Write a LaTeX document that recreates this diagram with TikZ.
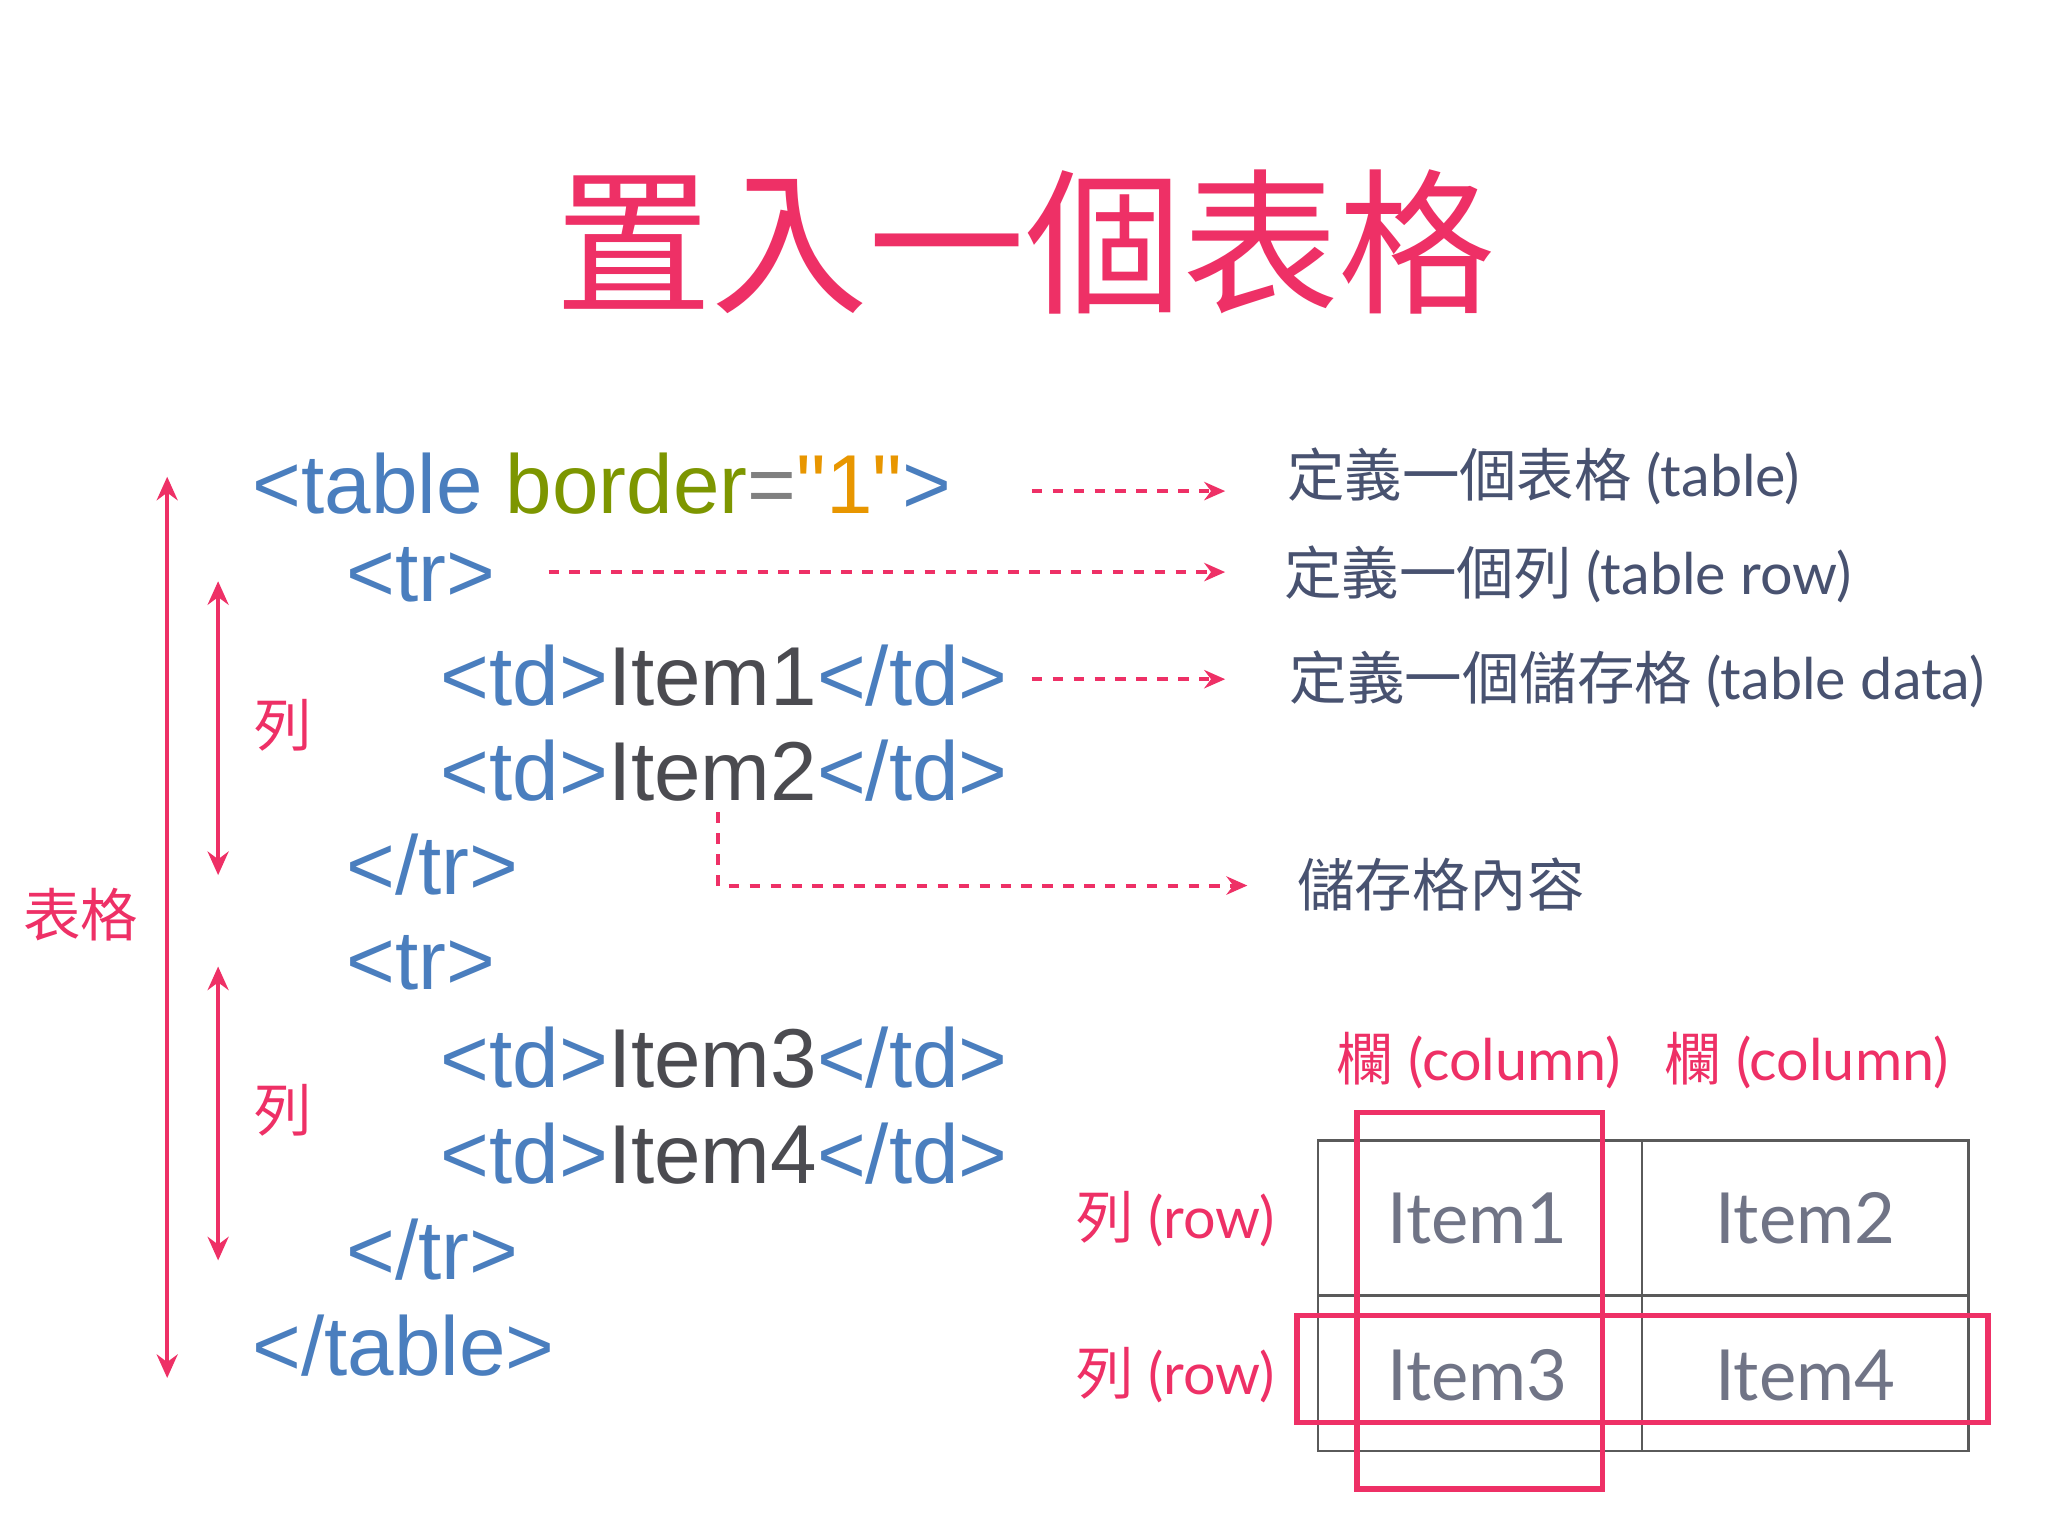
\documentclass[tikz,border=0pt]{standalone}
\usepackage{fontspec}
\setmainfont{Lato}
\newfontfamily\cjk{Noto Sans CJK TC}
\newfontfamily\codef{Liberation Sans}
\usetikzlibrary{arrows.meta}
\definecolor{pk}{RGB}{238,48,102}
\definecolor{cb}{RGB}{74,126,190}
\definecolor{ol}{RGB}{125,150,0}
\definecolor{og}{RGB}{232,150,0}
\definecolor{ig}{RGB}{75,75,80}
\definecolor{sl}{RGB}{72,82,112}
\definecolor{tg}{RGB}{112,116,134}
\definecolor{gl}{RGB}{90,90,90}
\tikzset{
 code/.style={anchor=west,inner sep=0pt,font=\codef\fontsize{32}{36}\selectfont,text=cb},
 desc/.style={anchor=west,inner sep=0pt,font=\fontsize{22}{26}\selectfont,text=sl},
 pl/.style={inner sep=0pt,font=\fontsize{22}{26}\selectfont,text=pk},
 item/.style={inner sep=0pt,font=\fontsize{27}{30}\selectfont,text=tg},
 darr/.style={pk,line width=1.5pt,dash pattern=on 4pt off 4pt,-{Stealth[length=8pt,width=7pt]}},
 varr/.style={pk,line width=1.5pt,{Stealth[length=9pt,width=8pt]}-{Stealth[length=9pt,width=8pt]}},
 pbox/.style={pk,line width=2pt},
}
\begin{document}
\begin{tikzpicture}[x=0.5pt,y=-0.5pt]
\useasboundingbox (0,0) rectangle (1568,1176);
\fill[white] (0,0) rectangle (1568,1176);
\node[text=pk,font=\cjk\fontsize{60}{64}\selectfont] (title) at (785,185) {置入一個表格};
% code
\node[code] (c1) at (193,370) {<table \textcolor{ol}{border}\textcolor{gray}{=}\textcolor{og}{"1"}>};
\node[code] (c2) at (265,440) {<tr>};
\node[code] (c3) at (337,517) {<td>\textcolor{ig}{Item1}</td>};
\node[code] (c4) at (337,590) {<td>\textcolor{ig}{Item2}</td>};
\node[code] (c5) at (265,662) {</tr>};
\node[code] (c6) at (265,737) {<tr>};
\node[code] (c7) at (337,810) {<td>\textcolor{ig}{Item3}</td>};
\node[code] (c8) at (337,883) {<td>\textcolor{ig}{Item4}</td>};
\node[code] (c9) at (265,957) {</tr>};
\node[code] (c10) at (193,1030) {</table>};
% vertical arrows
\coordinate (t1) at (128,365); \coordinate (t2) at (128,1055);
\draw[varr] (t1) -- (t2);
\node[pl,font=\cjk\fontsize{22}{26}\selectfont] (lt) at (62,700) {表格};
\coordinate (r1a) at (167,445); \coordinate (r1b) at (167,670);
\draw[varr] (r1a) -- (r1b);
\node[pl,font=\cjk\fontsize{22}{26}\selectfont] (lr1) at (217,555) {列};
\coordinate (r2a) at (167,740); \coordinate (r2b) at (167,965);
\draw[varr] (r2a) -- (r2b);
\node[pl,font=\cjk\fontsize{22}{26}\selectfont] (lr2) at (217,850) {列};
% descriptions
\node[desc] (d1) at (985,365) {{\cjk 定義一個表格} (table)};
\node[desc] (d2) at (983,440) {{\cjk 定義一個列} (table row)};
\node[desc] (d3) at (987,520) {{\cjk 定義一個儲存格} (table data)};
\node[desc] (d4) at (993,677) {{\cjk 儲存格內容}};
% dashed arrows
\coordinate (a1) at (790,376); \coordinate (e1) at (938,376);
\draw[darr] (a1) -- (e1);
\coordinate (a2) at (420,438); \coordinate (e2) at (938,438);
\draw[darr] (a2) -- (e2);
\coordinate (a3) at (790,520); \coordinate (e3) at (938,520);
\draw[darr] (a3) -- (e3);
\coordinate (a4) at (550,622); \coordinate (e4) at (955,678);
\draw[darr] (a4) |- (e4);
% table
\draw[gl,line width=1pt] (1009,873) rectangle (1507,1111);
\draw[gl,line width=1pt] (1257,873) -- (1257,1111);
\draw[gl,line width=1pt] (1009,992) -- (1507,992);
\node[item] (i1) at (1131,933) {Item1};
\node[item] (i2) at (1382,933) {Item2};
\node[item] (i3) at (1131,1053) {Item3};
\node[item] (i4) at (1382,1053) {Item4};
\draw[pbox] (1039,852) rectangle (1227,1140);
\draw[pbox] (993,1007) rectangle (1522,1089);
\node[pl] (k1) at (1132,812) {{\cjk 欄} (column)};
\node[pl] (k2) at (1383,812) {{\cjk 欄} (column)};
\node[pl] (w1) at (900,933) {{\cjk 列} (row)};
\node[pl] (w2) at (900,1053) {{\cjk 列} (row)};
\end{tikzpicture}
\end{document}
